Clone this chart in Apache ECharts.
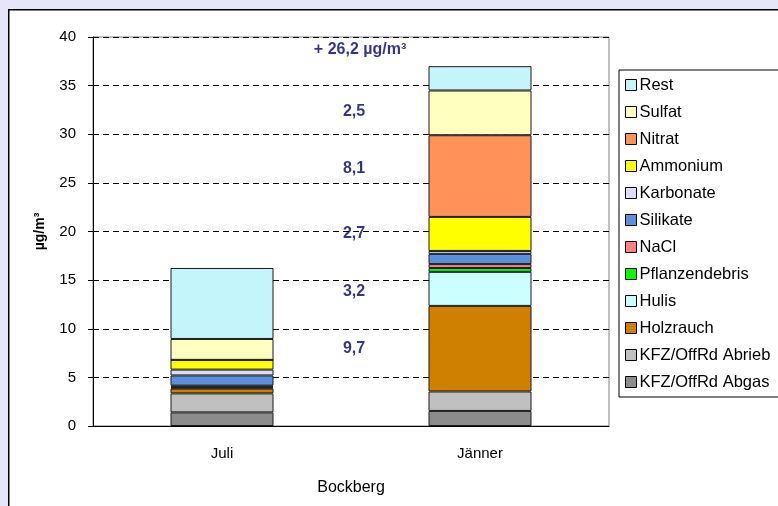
<!DOCTYPE html>
<html><head><meta charset="utf-8">
<script src="https://cdn.jsdelivr.net/npm/echarts@6/dist/echarts.min.js"></script>
<style>html,body{margin:0;padding:0;background:#e6e6fa}#c{width:778px;height:506px}</style>
</head><body><div id="c"></div>
<script>
const categories = ['Juli', 'Jänner'];
const groupLabel = ['Bockberg'];
const seriesNames = ['KFZ/OffRd Abgas','KFZ/OffRd Abrieb','Holzrauch','Hulis','Pflanzendebris','NaCl','Silikate','Karbonate','Ammonium','Nitrat','Sulfat','Rest'];
const abgas = [1.4, 1.55];
const abrieb = [1.95, 2.0];
const holzrauch = [0.5, 8.8];
const hulis = [0.1, 3.5];
const pflanzendebris = [0.1, 0.4];
const nacl = [0.1, 0.4];
const silikate = [1.05, 1.05];
const karbonate = [0.6, 0.3];
const ammonium = [1.0, 3.5];
const nitrat = [0.0, 8.4];
const sulfat = [2.15, 4.6];
const rest = [7.3, 2.5];
const annoValues = [38.7, 32.3, 26.5, 19.8, 13.8, 8.0];
const annoPos = [1.035, 1.012, 1.012, 1.012, 1.012, 1.012];
const annoTexts = ['+ 26,2 µg/m³', '2,5', '8,1', '2,7', '3,2', '9,7'];
const yTicks = [0, 5, 10, 15, 20, 25, 30, 35, 40];

const values = [abgas, abrieb, holzrauch, hulis, pflanzendebris, nacl, silikate, karbonate, ammonium, nitrat, sulfat, rest];
const colors = ['#8c8c8c','#c0c0c0','#d08000','#ccffff','#00ff00','#ff8080','#5b8fe0','#ddddff','#ffff00','#ff9259','#ffffc0','#c4f5fa'];

const chart = echarts.init(document.getElementById('c'));
const font = 'Liberation Sans, Arial, sans-serif';
const series = seriesNames.map((n, i) => ({
  name: n, type: 'bar', stack: 'a', barWidth: 103, xAxisIndex: 0,
  data: values[i],
  itemStyle: { color: colors[i], borderColor: '#1a1a1a', borderWidth: 1 }
}));
series.push({
  type: 'scatter', xAxisIndex: 2, symbolSize: 0, silent: true,
  data: annoValues.map((v, i) => ({ value: [annoPos[i], v], label: { formatter: annoTexts[i] } })),
  label: { show: true, position: 'inside', color: '#00006e', fontWeight: 'bold', fontSize: 16, fontFamily: font }
});

chart.setOption({
  animation: false,
  backgroundColor: '#e6e6fa',
  graphic: [{ type: 'rect', left: 8, top: 9, z: -10, shape: { width: 800, height: 600 }, style: { fill: '#fff', stroke: '#000', lineWidth: 1.5 } }],
  grid: { left: 93, right: 169, top: 37, bottom: 80, show: true, borderColor: '#808080', borderWidth: 1, backgroundColor: 'transparent' },
  legend: {
    orient: 'vertical', left: 619, top: 70, data: seriesNames.slice().reverse(),
    itemWidth: 11, itemHeight: 11, itemGap: 9, icon: 'rect',
    backgroundColor: '#fff', borderColor: '#000', borderWidth: 1, padding: [6, 30, 6, 6],
    itemStyle: { borderColor: '#000', borderWidth: 1 },
    textStyle: { fontSize: 16.5, color: '#000', fontFamily: font, lineHeight: 18, padding: [0, 0, 0, -2] }
  },
  xAxis: [
    { type: 'category', data: categories, position: 'bottom',
      axisLine: { lineStyle: { color: '#000' } },
      axisTick: { length: 36, lineStyle: { color: '#000' } },
      axisLabel: { color: '#000', fontSize: 15, fontFamily: font, margin: 20 } },
    { type: 'category', data: groupLabel, position: 'bottom',
      axisLine: { show: false },
      axisTick: { length: 71, lineStyle: { color: '#000' } },
      axisLabel: { color: '#000', fontSize: 16, fontFamily: font, margin: 54 } },
    { type: 'value', min: 0, max: 2, show: false }
  ],
  yAxis: {
    type: 'value', min: 0, max: 40, interval: 5,
    name: 'µg/m³', nameLocation: 'middle', nameGap: 46, nameRotate: 90,
    nameTextStyle: { fontWeight: 'bold', fontSize: 14, color: '#000', fontFamily: font },
    axisLine: { show: true, lineStyle: { color: '#000' } },
    axisTick: { show: true, length: 5, lineStyle: { color: '#000' } },
    axisLabel: { color: '#000', fontSize: 15, fontFamily: font, margin: 17,
      formatter: v => yTicks.includes(v) ? String(v) : '' },
    splitLine: { show: true, lineStyle: { color: '#000', type: [6, 4], width: 1 } }
  },
  series: series
});
</script></body></html>
